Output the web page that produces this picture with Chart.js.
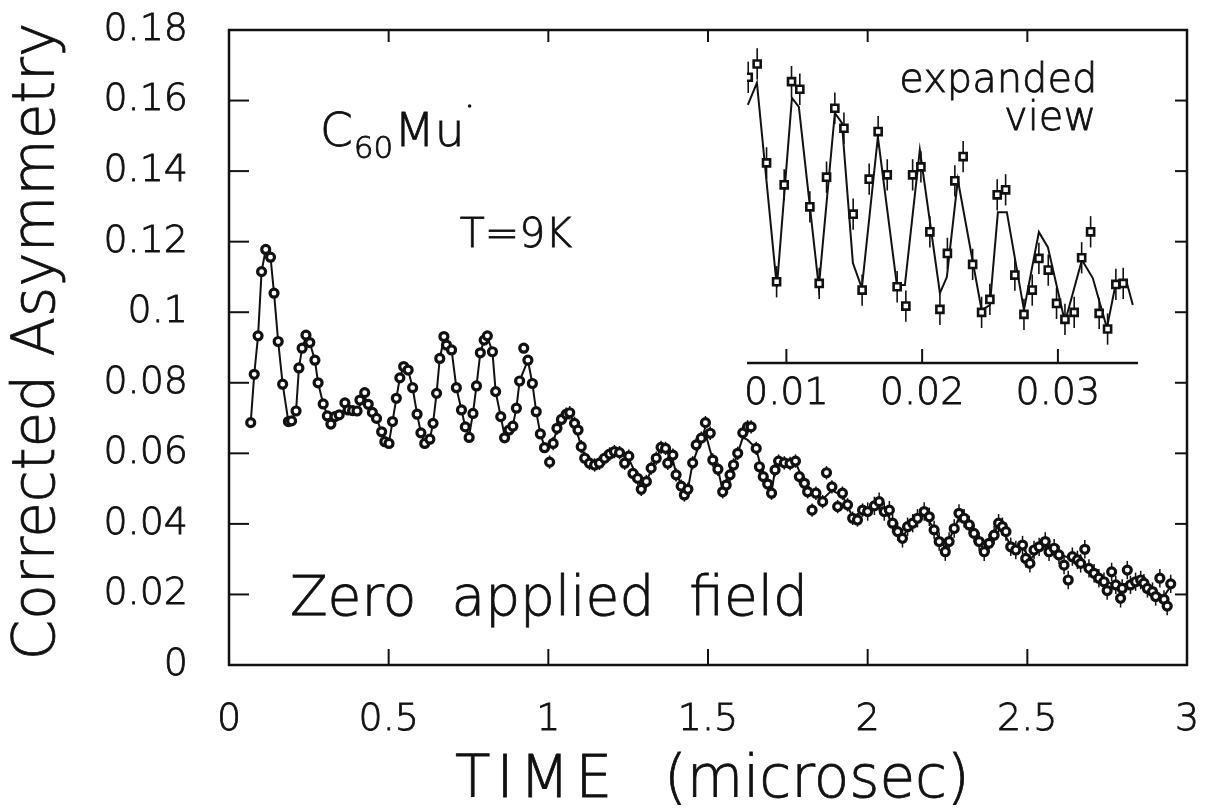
<!DOCTYPE html>
<html><head><meta charset="utf-8">
<script src="https://cdn.jsdelivr.net/npm/chart.js@4.4.1/dist/chart.umd.min.js"></script>
<style>
html,body{margin:0;padding:0;background:#fff;}
#wrap{position:relative;width:1208px;height:811px;overflow:hidden;}
#main{position:absolute;left:0;top:0;}
#inset{position:absolute;left:700px;top:0;}
</style></head><body>
<div id="wrap"><canvas id="main" width="1208" height="811"></canvas><canvas id="inset" width="470" height="430"></canvas></div>
<script>
// ---- main panel: corrected asymmetry vs time (microsec) ----
const timeUs = [
0.068,0.079,0.091,0.102,0.115,0.130,0.141,0.154,0.168,0.186,
0.196,0.210,0.219,0.229,0.241,0.253,0.269,0.279,0.295,0.308,
0.319,0.332,0.345,0.363,0.373,0.387,0.401,0.410,0.425,0.436,
0.449,0.462,0.478,0.488,0.501,0.512,0.524,0.535,0.547,0.561,
0.575,0.589,0.601,0.613,0.629,0.639,0.650,0.660,0.673,0.681,
0.697,0.712,0.728,0.740,0.752,0.764,0.775,0.787,0.799,0.809,
0.825,0.835,0.851,0.863,0.877,0.889,0.900,0.910,0.923,0.936,
0.950,0.962,0.975,0.988,1.004,1.015,1.027,1.041,1.056,1.067,
1.082,1.093,1.103,1.114,1.129,1.145,1.160,1.176,1.192,1.207,
1.223,1.239,1.252,1.265,1.280,1.291,1.307,1.322,1.338,1.353,
1.367,1.374,1.390,1.400,1.416,1.426,1.437,1.452,1.463,1.479,
1.492,1.507,1.515,1.531,1.546,1.557,1.569,1.580,1.593,1.609,
1.624,1.635,1.651,1.661,1.673,1.687,1.699,1.710,1.721,1.739,
1.757,1.774,1.786,1.802,1.812,1.826,1.838,1.859,1.871,1.888,
1.906,1.921,1.937,1.953,1.968,1.984,2.000,2.021,2.036,2.052,
2.068,2.078,2.094,2.109,2.125,2.141,2.156,2.177,2.193,2.208,
2.224,2.243,2.255,2.271,2.286,2.302,2.318,2.333,2.349,2.365,
2.380,2.396,2.410,2.422,2.433,2.448,2.464,2.485,2.495,2.508,
2.521,2.537,2.556,2.568,2.584,2.599,2.615,2.628,2.641,2.657,
2.667,2.680,2.693,2.709,2.724,2.740,2.750,2.764,2.777,2.792,
2.797,2.813,2.823,2.839,2.855,2.865,2.876,2.892,2.902,2.915,
2.928,2.938,2.949];
const asymmetry = [
0.0687,0.0824,0.0933,0.1115,0.1178,0.1156,0.1054,0.0917,0.0796,0.0690,
0.0692,0.0720,0.0842,0.0898,0.0935,0.0914,0.0864,0.0800,0.0740,0.0706,
0.0683,0.0704,0.0709,0.0743,0.0723,0.0721,0.0720,0.0751,0.0772,0.0739,
0.0716,0.0699,0.0661,0.0633,0.0628,0.0690,0.0756,0.0814,0.0846,0.0836,
0.0786,0.0711,0.0658,0.0628,0.0640,0.0685,0.0770,0.0869,0.0931,0.0907,
0.0893,0.0786,0.0723,0.0675,0.0645,0.0713,0.0791,0.0885,0.0921,0.0933,
0.0888,0.0775,0.0704,0.0644,0.0666,0.0677,0.0728,0.0805,0.0898,0.0864,
0.0798,0.0718,0.0655,0.0616,0.0575,0.0628,0.0671,0.0696,0.0711,0.0715,
0.0685,0.0666,0.0619,0.0586,0.0572,0.0567,0.0572,0.0586,0.0598,0.0605,
0.0602,0.0572,0.0592,0.0543,0.0529,0.0498,0.0520,0.0558,0.0586,0.0617,
0.0614,0.0572,0.0595,0.0539,0.0507,0.0482,0.0498,0.0573,0.0624,0.0643,
0.0687,0.0657,0.0581,0.0555,0.0491,0.0510,0.0539,0.0567,0.0600,0.0658,
0.0675,0.0675,0.0614,0.0562,0.0534,0.0513,0.0487,0.0553,0.0578,0.0573,
0.0571,0.0578,0.0534,0.0515,0.0491,0.0439,0.0487,0.0463,0.0545,0.0505,
0.0449,0.0487,0.0454,0.0416,0.0411,0.0439,0.0435,0.0451,0.0463,0.0435,
0.0439,0.0402,0.0378,0.0359,0.0392,0.0402,0.0416,0.0435,0.0420,0.0383,
0.0350,0.0321,0.0350,0.0387,0.0430,0.0416,0.0397,0.0373,0.0350,0.0321,
0.0345,0.0368,0.0402,0.0392,0.0378,0.0335,0.0326,0.0340,0.0302,0.0288,
0.0326,0.0335,0.0350,0.0321,0.0331,0.0312,0.0283,0.0241,0.0307,0.0298,
0.0288,0.0328,0.0274,0.0260,0.0246,0.0236,0.0211,0.0264,0.0227,0.0189,
0.0217,0.0269,0.0227,0.0236,0.0241,0.0232,0.0217,0.0208,0.0194,0.0246,
0.0186,0.0167,0.0230];
// error-bar half size, read per time band (band starts / sizes)
const errBandStart = [0, 1.0, 2.0];
const errBandSize  = [0.0012, 0.0019, 0.0026];

// fitted curve through the main data
const fitTime = [
0.068,0.079,0.091,0.102,0.115,0.130,0.141,0.154,0.168,0.186,
0.196,0.210,0.219,0.229,0.241,0.253,0.269,0.279,0.295,0.308,
0.319,0.332,0.345,0.363,0.387,0.401,0.425,0.449,0.462,0.478,
0.490,0.501,0.512,0.524,0.535,0.547,0.561,0.575,0.589,0.601,
0.613,0.629,0.639,0.650,0.660,0.673,0.697,0.712,0.728,0.740,
0.752,0.764,0.775,0.787,0.799,0.809,0.825,0.835,0.851,0.863,
0.877,0.889,0.900,0.910,0.936,0.950,0.962,0.975,0.988,1.015,
1.027,1.041,1.067,1.082,1.103,1.114,1.145,1.176,1.207,1.223,
1.252,1.280,1.291,1.307,1.338,1.353,1.367,1.390,1.400,1.426,
1.437,1.452,1.479,1.489,1.515,1.531,1.546,1.569,1.593,1.609,
1.624,1.651,1.673,1.699,1.710,1.721,1.757,1.774,1.802,1.838,
1.859,1.888,1.921,1.953,1.984,2.021,2.052,2.078,2.109,2.141,
2.177,2.208,2.243,2.271,2.290,2.333,2.365,2.410,2.448,2.485,
2.508,2.556,2.599,2.641,2.693,2.740,2.777,2.839,2.876,2.928,
2.950];
const fitAsym = [
0.0687,0.0824,0.0933,0.1115,0.1178,0.1156,0.1054,0.0917,0.0796,0.0690,
0.0692,0.0720,0.0842,0.0898,0.0930,0.0914,0.0864,0.0800,0.0740,0.0706,
0.0690,0.0704,0.0709,0.0725,0.0721,0.0722,0.0760,0.0716,0.0699,0.0661,
0.0633,0.0630,0.0690,0.0756,0.0814,0.0846,0.0836,0.0786,0.0711,0.0658,
0.0630,0.0640,0.0685,0.0770,0.0869,0.0925,0.0893,0.0786,0.0723,0.0675,
0.0650,0.0713,0.0791,0.0885,0.0921,0.0930,0.0888,0.0775,0.0704,0.0650,
0.0666,0.0680,0.0728,0.0805,0.0864,0.0798,0.0718,0.0655,0.0620,0.0628,
0.0671,0.0696,0.0712,0.0685,0.0619,0.0590,0.0570,0.0586,0.0603,0.0600,
0.0585,0.0529,0.0505,0.0520,0.0586,0.0615,0.0610,0.0580,0.0545,0.0490,
0.0498,0.0573,0.0640,0.0666,0.0581,0.0555,0.0495,0.0539,0.0600,0.0645,
0.0638,0.0614,0.0534,0.0490,0.0553,0.0575,0.0575,0.0575,0.0515,0.0487,
0.0470,0.0495,0.0480,0.0420,0.0435,0.0450,0.0440,0.0402,0.0365,0.0400,
0.0430,0.0385,0.0330,0.0387,0.0425,0.0373,0.0325,0.0398,0.0340,0.0335,
0.0300,0.0340,0.0315,0.0300,0.0280,0.0240,0.0225,0.0235,0.0215,0.0195,
0.0225];
const xTickValues = [0, 0.5, 1, 1.5, 2, 2.5, 3];
const yTickValues = [0, 0.02, 0.04, 0.06, 0.08, 0.1, 0.12, 0.14, 0.16, 0.18];

// ---- inset: expanded view ----
const insetTime = [
0.00719,0.00785,0.00854,0.00928,0.00984,0.01038,0.01099,0.01173,0.01242,0.01296,
0.01357,0.01424,0.01492,0.01558,0.01610,0.01676,0.01743,0.01816,0.01880,0.01930,
0.01991,0.02057,0.02131,0.02186,0.02241,0.02302,0.02372,0.02438,0.02499,0.02553,
0.02615,0.02683,0.02750,0.02811,0.02860,0.02929,0.02990,0.03052,0.03120,0.03175,
0.03241,0.03304,0.03366,0.03427,0.03481];
const insetAsym = [
0.1658,0.1698,0.1401,0.1044,0.1335,0.1645,0.1622,0.1269,0.1039,0.1358,
0.1565,0.1505,0.1247,0.1019,0.1352,0.1495,0.1365,0.1029,0.0971,0.1365,
0.1389,0.1194,0.0961,0.1129,0.1347,0.1420,0.1096,0.0952,0.0991,0.1305,
0.1320,0.1064,0.0946,0.1019,0.1114,0.1079,0.0979,0.0931,0.0952,0.1116,
0.1194,0.0949,0.0902,0.1036,0.1039];
const insetErr = 0.0047;
const insetFitTime = [
0.00716,0.00783,0.00930,0.01041,0.01092,0.01239,0.01357,0.01409,0.01490,0.01556,
0.01674,0.01814,0.01873,0.01983,0.02131,0.02182,0.02263,0.02438,0.02499,0.02558,
0.02624,0.02750,0.02860,0.02926,0.03052,0.03177,0.03257,0.03361,0.03427,0.03508,0.03552];
const insetFitAsym = [
0.1575,0.1641,0.1028,0.1596,0.1569,0.1028,0.1551,0.1521,0.1100,0.1025,
0.1479,0.1034,0.1034,0.1440,0.1010,0.1058,0.1350,0.0959,0.0974,0.1253,
0.1253,0.0959,0.1193,0.1148,0.0923,0.1109,0.1055,0.0905,0.1040,0.1040,0.0974];
const insetTickValues = [0.01, 0.02, 0.03];

const FAMILY = "'DejaVu Sans', 'Liberation Sans', sans-serif";
const INK = '#111';
const STROKE = 0.8;
const fmt = v => String(+(+v).toFixed(4));
const font = (size) => ({family: FAMILY, size: size, weight: 200});
const cssFont = (size) => `200 ${size}px ${FAMILY}`;

function errFor(t) {
  let e = errBandSize[0];
  for (let i = 0; i < errBandStart.length; i++) if (t >= errBandStart[i]) e = errBandSize[i];
  return e;
}
function seg(ctx, x1, y1, x2, y2) { ctx.beginPath(); ctx.moveTo(x1, y1); ctx.lineTo(x2, y2); ctx.stroke(); }
function txt(ctx, s, x, y) { ctx.fillText(s, x, y); ctx.strokeText(s, x, y); }

const mainErrorBars = {
  id: 'mainErrorBars',
  beforeDatasetsDraw(chart) {
    const {ctx, scales: {x, y}} = chart;
    ctx.save(); ctx.strokeStyle = INK; ctx.lineWidth = 1.5;
    timeUs.forEach((t, i) => {
      const e = errFor(t), px = x.getPixelForValue(t);
      seg(ctx, px, y.getPixelForValue(asymmetry[i] - e), px, y.getPixelForValue(asymmetry[i] + e));
    });
    ctx.restore();
  }
};
const mainFrame = {
  id: 'mainFrame',
  afterDraw(chart) {
    const {ctx, chartArea: a, scales: {x, y}} = chart;
    ctx.save(); ctx.strokeStyle = INK; ctx.lineWidth = 2.5;
    ctx.strokeRect(a.left, a.top, a.right - a.left, a.bottom - a.top);
    ctx.lineWidth = 2;
    xTickValues.forEach(v => { const p = x.getPixelForValue(v); seg(ctx, p, a.bottom, p, a.bottom - 16); seg(ctx, p, a.top, p, a.top + 12); });
    yTickValues.forEach(v => { const p = y.getPixelForValue(v); seg(ctx, a.left, p, a.left + 20, p); seg(ctx, a.right, p, a.right - 12, p); });
    ctx.restore();
  }
};
const mainNotes = {
  id: 'mainNotes',
  afterDraw(chart) {
    const {ctx, chartArea: a, scales: {x, y}} = chart;
    ctx.save(); ctx.fillStyle = INK; ctx.strokeStyle = INK; ctx.lineWidth = STROKE;
    ctx.textAlign = 'left'; ctx.textBaseline = 'alphabetic';
    // axis titles
    ctx.font = cssFont(58);
    ctx.letterSpacing = '6px';
    txt(ctx, 'TIME', 455, 797);
    ctx.letterSpacing = '0px';
    txt(ctx, '(microsec)', 664, 797);
    ctx.save();
    ctx.translate(39, (a.top + a.bottom) / 2 - 6); ctx.rotate(-Math.PI / 2);
    ctx.textAlign = 'center'; ctx.textBaseline = 'middle'; ctx.font = cssFont(58);
    txt(ctx, 'Corrected Asymmetry', 0, 0);
    ctx.restore();
    // C60Mu (radical)
    let px = x.getPixelForValue(0.285); const py = y.getPixelForValue(0.1471);
    ctx.font = cssFont(47); txt(ctx, 'C', px, py); px += ctx.measureText('C').width + 1;
    ctx.font = cssFont(31); txt(ctx, '60', px, py + 12); px += ctx.measureText('60').width + 1;
    ctx.font = cssFont(47); txt(ctx, 'Mu', px, py); px += ctx.measureText('Mu').width + 5;
    ctx.beginPath(); ctx.arc(px, py - 40, 1.8, 0, Math.PI * 2); ctx.fill();
    ctx.font = cssFont(41); txt(ctx, 'T=9K', x.getPixelForValue(0.7226), y.getPixelForValue(0.1185));
    ctx.font = cssFont(55); txt(ctx, 'Zero  applied  field', x.getPixelForValue(0.1908), y.getPixelForValue(0.01417));
    ctx.font = cssFont(40);
    txt(ctx, 'expanded', x.getPixelForValue(2.099), y.getPixelForValue(0.1624));
    txt(ctx, 'view', x.getPixelForValue(2.427), y.getPixelForValue(0.1516));
    ctx.restore();
  }
};

new Chart(document.getElementById('main'), {
  type: 'scatter',
  data: { datasets: [
    { label: 'fit', data: fitTime.map((t, i) => ({x: t, y: fitAsym[i]})), showLine: true, borderColor: INK, borderWidth: 2,
      pointRadius: 0, tension: 0, order: 2 },
    { label: 'data', data: timeUs.map((t, i) => ({x: t, y: asymmetry[i]})), showLine: false, pointStyle: 'circle',
      pointRadius: 4, pointBorderWidth: 3.2, borderColor: INK, backgroundColor: '#fff', order: 1 }
  ]},
  options: {
    responsive: false, animation: false, devicePixelRatio: 1,
    layout: { padding: { left: 0, top: 30, right: 21, bottom: 0 } },
    plugins: { legend: { display: false }, tooltip: { enabled: false } },
    scales: {
      x: { type: 'linear', min: 0, max: 3,
        afterBuildTicks: s => { s.ticks = xTickValues.map(v => ({value: v})); },
        afterFit: s => { s.height = 146; s.paddingLeft = 0; s.paddingRight = 0; },
        grid: { display: false, drawTicks: false }, border: { display: false },
        ticks: { padding: 32, color: INK, font: font(38), textStrokeColor: INK, textStrokeWidth: STROKE,
          callback: v => fmt(v), maxRotation: 0, autoSkip: false },
        title: { display: false } },
      y: { type: 'linear', min: 0, max: 0.18,
        afterBuildTicks: s => { s.ticks = yTickValues.map(v => ({value: v})); },
        afterFit: s => { s.width = 229; s.paddingTop = 0; s.paddingBottom = 0; },
        grid: { display: false, drawTicks: false }, border: { display: false },
        ticks: { padding: 41, color: INK, font: font(38), textStrokeColor: INK, textStrokeWidth: STROKE,
          callback: v => fmt(v), autoSkip: false },
        title: { display: false } }
    }
  },
  plugins: [mainErrorBars, mainFrame, mainNotes]
});

const insetErrorBars = {
  id: 'insetErrorBars',
  beforeDatasetsDraw(chart) {
    const {ctx, scales: {x, y}} = chart;
    ctx.save(); ctx.strokeStyle = INK; ctx.lineWidth = 1.6;
    insetTime.forEach((t, i) => {
      const px = x.getPixelForValue(t);
      seg(ctx, px, y.getPixelForValue(insetAsym[i] - insetErr), px, y.getPixelForValue(insetAsym[i] + insetErr));
    });
    ctx.restore();
  }
};
const insetAxis = {
  id: 'insetAxis',
  afterDraw(chart) {
    const {ctx, chartArea: a, scales: {x}} = chart;
    ctx.save(); ctx.strokeStyle = INK; ctx.lineWidth = 2.5;
    seg(ctx, a.left, a.bottom, a.right, a.bottom);
    ctx.lineWidth = 2;
    insetTickValues.forEach(v => { const p = x.getPixelForValue(v); seg(ctx, p, a.bottom, p, a.bottom - 14); });
    ctx.restore();
  }
};

new Chart(document.getElementById('inset'), {
  type: 'scatter',
  data: { datasets: [
    { label: 'fit', data: insetFitTime.map((t, i) => ({x: t, y: insetFitAsym[i]})), showLine: true, borderColor: INK,
      borderWidth: 2, pointRadius: 0, tension: 0, order: 2 },
    { label: 'data', data: insetTime.map((t, i) => ({x: t, y: insetAsym[i]})), showLine: false, pointStyle: 'rect',
      pointRadius: 5, pointBorderWidth: 2.6, borderColor: INK, backgroundColor: '#fff', order: 1 }
  ]},
  options: {
    responsive: false, animation: false, devicePixelRatio: 1,
    layout: { padding: { left: 47, top: 30, right: 32, bottom: 0 } },
    plugins: { legend: { display: false }, tooltip: { enabled: false } },
    scales: {
      x: { type: 'linear', min: 0.0071, max: 0.0359,
        afterBuildTicks: s => { s.ticks = insetTickValues.map(v => ({value: v})); },
        afterFit: s => { s.height = 67; s.paddingLeft = 0; s.paddingRight = 0; },
        grid: { display: false, drawTicks: false }, border: { display: false },
        ticks: { padding: 8, color: INK, font: font(38), textStrokeColor: INK, textStrokeWidth: STROKE,
          callback: v => fmt(v), maxRotation: 0, autoSkip: false } },
      y: { type: 'linear', min: 0.08, max: 0.18, display: false }
    }
  },
  plugins: [insetErrorBars, insetAxis]
});
</script>
</body></html>
